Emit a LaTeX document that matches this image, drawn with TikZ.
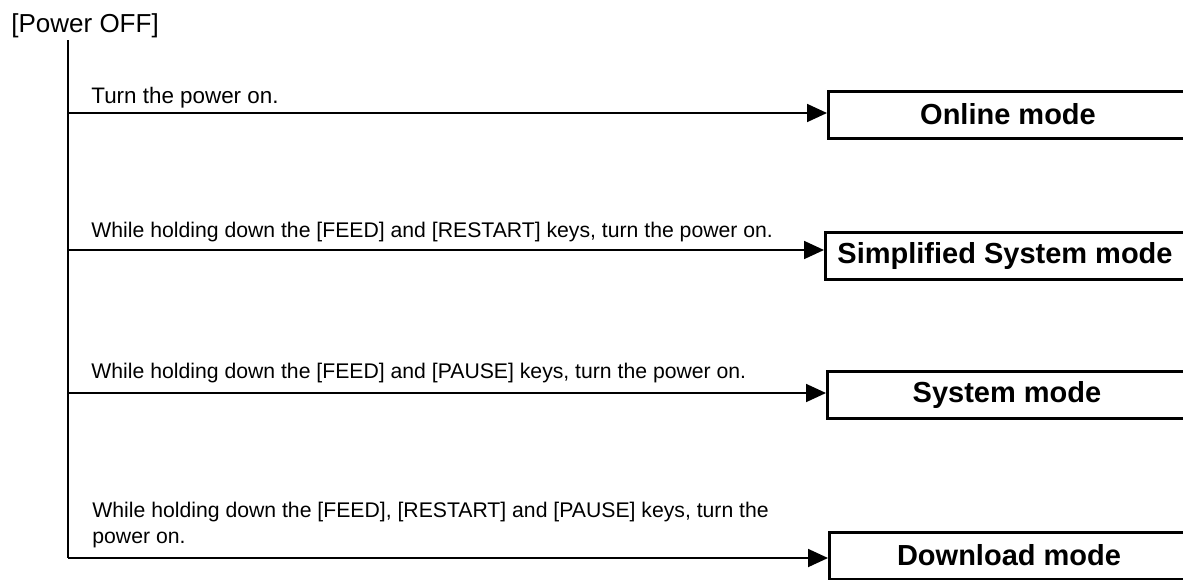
\documentclass[tikz,border=0pt]{standalone}
\usepackage{fontspec}
\setmainfont{Liberation Sans}
\usetikzlibrary{arrows.meta}

\begin{document}
\begin{tikzpicture}[x=0.5pt, y=-0.5pt,
    modebox/.style={draw, line width=1.5pt, anchor=west, minimum width=179.5pt,
        minimum height=23.5pt, inner sep=0pt,
        font=\fontsize{14.5}{17}\selectfont\bfseries},
    keylabel/.style={anchor=base west, inner sep=0pt, align=left,
        font=\fontsize{10.6}{13}\selectfont},
    flow/.style={line width=0.9pt},
    toarrow/.style={flow, -{Triangle[length=10pt, width=9pt]}}]
    \useasboundingbox (0, 0) rectangle (1183, 579);
    \node[anchor=base west, inner sep=0pt, font=\fontsize{13}{15}\selectfont]
        (power) at (11, 32) {[Power OFF]};
    \coordinate (top) at (68, 40);
    % modes
    \node[modebox] (online) at (827, 114.5) {Online mode};
    \node[modebox] (simple) at (824, 256) {Simplified System mode};
    \node[modebox] (system) at (826, 395) {System mode};
    \node[modebox] (download) at (828, 555.5) {Download mode};
    \foreach \name/\y in {t1/113, t2/250, t3/393, t4/558}
        \coordinate (\name) at (68, \y);
    \draw[flow] (top) -- (t4);
    \foreach \from/\to in {t1/online, t2/simple, t3/system, t4/download}
        \draw[toarrow] (\from) -- (\from -| \to.west);
    % key combinations
    \node[keylabel, font=\fontsize{11.2}{13}\selectfont] (k1) at (91, 103)
        {Turn the power on.};
    \node[keylabel] (k2) at (91, 237)
        {While holding down the [FEED] and [RESTART] keys, turn the power on.};
    \node[keylabel] (k3) at (91, 378)
        {While holding down the [FEED] and [PAUSE] keys, turn the power on.};
    \node[keylabel] (k4) at (92, 543)
        {While holding down the [FEED], [RESTART] and [PAUSE] keys, turn the\\power on.};
\end{tikzpicture}
\end{document}
